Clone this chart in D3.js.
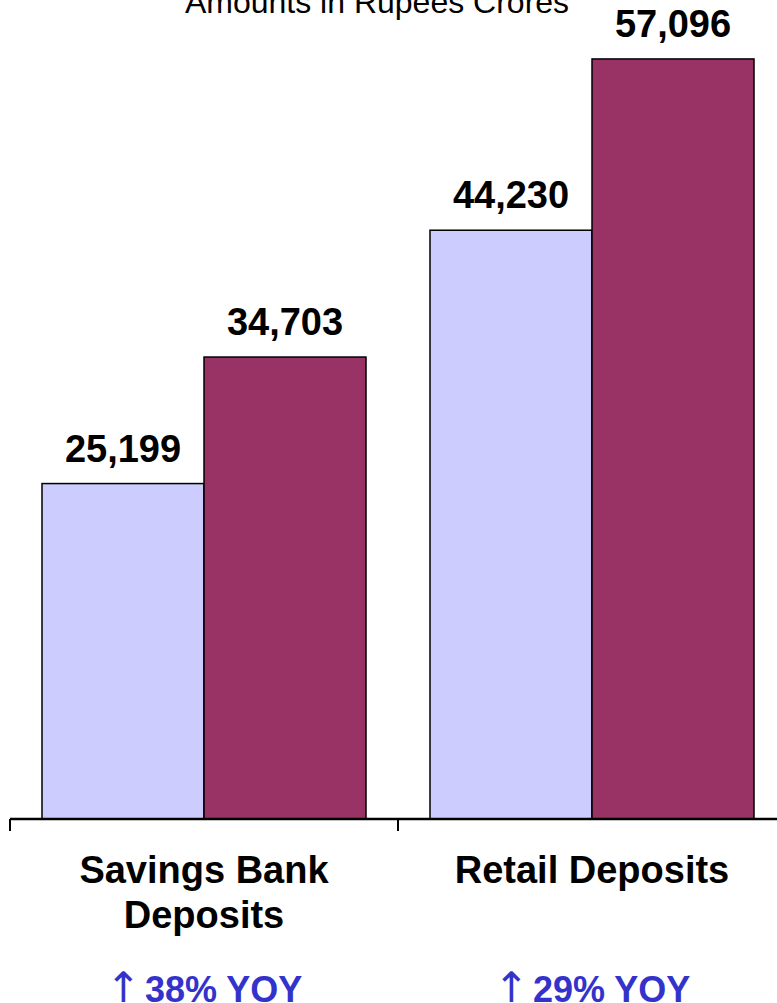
<!DOCTYPE html>
<html>
<head>
<meta charset="utf-8">
<script src="https://cdn.jsdelivr.net/npm/d3@7"></script>
<style>
  html, body { margin: 0; padding: 0; background: #fff; }
  svg { display: block; }
  text { font-family: "Liberation Sans", Arial, sans-serif; }
</style>
</head>
<body>
<svg id="chart" width="777" height="1003"></svg>
<script>
// Deposit totals, amounts in Rupees Crores
const categories = ["Savings Bank Deposits", "Retail Deposits"];
const categoryLines = [["Savings Bank", "Deposits"], ["Retail Deposits"]];
const seriesKeys = ["prior", "current"];
const priorValues = [25199, 44230];
const currentValues = [34703, 57096];
const growthLabels = ["38% YOY", "29% YOY"];
const titleText = "Amounts in Rupees Crores";

const colors = { prior: "#CCCCFF", current: "#993366" };

const svg = d3.select("#chart");
const baseY = 819;

const x = d3.scaleBand().domain(categories).range([10, 786]).padding(0);
const xInner = d3.scaleBand().domain(seriesKeys)
  .range([32, x.bandwidth() - 32]).padding(0);
const y = d3.scaleLinear().domain([0, 60000]).range([baseY, 20.3]);

const rows = categories.map((c, i) => ({
  category: c,
  values: { prior: priorValues[i], current: currentValues[i] }
}));

// Title
svg.append("text")
  .attr("x", 377).attr("y", 13)
  .attr("text-anchor", "middle")
  .attr("font-size", 32)
  .attr("fill", "#000")
  .text(titleText);

// Bars
const groups = svg.selectAll("g.cat").data(rows).join("g")
  .attr("class", "cat")
  .attr("transform", d => `translate(${x(d.category)},0)`);

groups.selectAll("rect").data(d => seriesKeys.map(k => ({ key: k, value: d.values[k] })))
  .join("rect")
  .attr("x", d => xInner(d.key))
  .attr("y", d => y(d.value))
  .attr("width", xInner.bandwidth())
  .attr("height", d => baseY - y(d.value))
  .attr("fill", d => colors[d.key])
  .attr("stroke", "#000")
  .attr("stroke-width", 1.5);

// Value labels
groups.selectAll("text.val").data(d => seriesKeys.map(k => ({ key: k, value: d.values[k] })))
  .join("text")
  .attr("class", "val")
  .attr("x", d => xInner(d.key) + xInner.bandwidth() / 2)
  .attr("y", d => y(d.value) - 22)
  .attr("text-anchor", "middle")
  .attr("font-size", 38)
  .attr("font-weight", "bold")
  .attr("fill", "#000")
  .text(d => d3.format(",")(d.value));

// Category axis: baseline plus ticks on category boundaries
const axisG = svg.append("g").attr("transform", `translate(0,${baseY})`);
axisG.append("path")
  .attr("d", "M10,0H777")
  .attr("stroke", "#000").attr("stroke-width", 2.5).attr("fill", "none");
const bounds = categories.map(c => x(c)).concat([x.range()[1]]);
axisG.selectAll("line.bound").data(bounds).join("line")
  .attr("class", "bound")
  .attr("x1", d => d).attr("x2", d => d)
  .attr("y1", 0).attr("y2", 12)
  .attr("stroke", "#000").attr("stroke-width", 2);

// Category labels and growth annotations
categories.forEach((c, i) => {
  const cx = x(c) + x.bandwidth() / 2;
  const t = svg.append("text")
    .attr("text-anchor", "middle")
    .attr("font-size", 38)
    .attr("font-weight", "bold")
    .attr("fill", "#000");
  categoryLines[i].forEach((line, j) => {
    t.append("tspan").attr("x", cx).attr("y", 883 + j * 45).text(line);
  });

  const g = svg.append("text")
    .attr("x", cx).attr("y", 1002)
    .attr("text-anchor", "middle")
    .attr("font-size", 36)
    .attr("font-weight", "bold")
    .attr("fill", "#3333CC");
  g.append("tspan")
    .attr("font-family", "DejaVu Sans")
    .attr("font-weight", "normal")
    .attr("font-size", 42)
    .text("\u2191");
  g.append("tspan").attr("dx", 4).text(growthLabels[i]);
});
</script>
</body>
</html>
